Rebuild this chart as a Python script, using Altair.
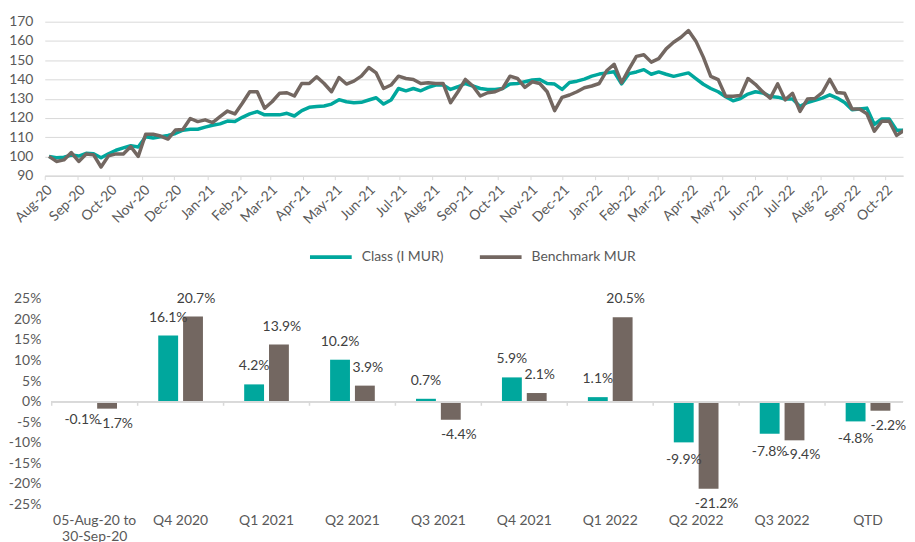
import altair as alt
import pandas as pd

# ---------------- data ----------------
SERIES = ["Class (I MUR)", "Benchmark MUR"]
TEAL = "#00A79D"
BROWN = "#736761"

class_idx = [100.0, 99.3, 99.6, 100.7, 100.2, 101.6, 101.4, 99.3, 101.4, 103.2,
             104.4, 105.6, 104.9, 110.2, 109.6, 110.2, 110.9, 111.9, 113.6, 114.1,
             114.1, 115.2, 116.2, 116.9, 118.4, 118.1, 120.3, 122.1, 123.3, 121.6,
             121.6, 121.6, 122.4, 121.0, 123.8, 125.5, 125.9, 126.2, 127.2, 129.5,
             128.4, 127.9, 128.1, 129.3, 130.5, 127.2, 129.3, 135.3, 134.1, 135.3,
             134.1, 135.9, 137.1, 137.1, 134.8, 136.2, 137.9, 136.6, 135.3, 134.8,
             134.8, 135.3, 137.6, 137.9, 138.8, 139.7, 140.0, 137.9, 137.6, 134.8,
             138.4, 139.1, 140.2, 141.7, 142.8, 143.4, 144.0, 137.7, 143.0, 143.9,
             145.1, 142.7, 143.9, 142.7, 141.6, 142.5, 143.4, 140.4, 137.5, 135.3,
             133.6, 131.0, 128.9, 130.1, 132.4, 133.6, 133.0, 131.1, 130.8, 129.8,
             129.8, 126.0, 128.0, 129.1, 130.3, 132.0, 130.3, 128.0, 124.3, 124.6,
             125.1, 116.6, 119.5, 119.5, 113.6, 113.6, 113.6]

bench_idx = [100.0, 97.4, 98.2, 102.0, 97.4, 101.3, 100.8, 94.5, 100.3, 101.3,
             101.3, 105.1, 100.0, 111.5, 111.5, 110.6, 109.0, 113.7, 114.0, 119.7,
             118.1, 119.0, 117.6, 120.7, 123.6, 122.1, 127.6, 133.6, 133.6, 125.0,
             128.4, 132.8, 133.1, 131.4, 137.9, 137.9, 141.4, 137.9, 133.6, 141.0,
             137.6, 139.1, 141.7, 146.2, 143.4, 135.3, 137.1, 141.7, 140.5, 140.0,
             137.9, 138.3, 137.9, 137.9, 127.9, 133.6, 140.0, 136.6, 131.4, 133.1,
             133.6, 135.3, 141.7, 140.5, 135.9, 138.8, 137.9, 133.6, 123.8, 130.7,
             131.9, 133.6, 135.7, 136.6, 137.9, 144.5, 147.9, 138.3, 145.4, 152.0,
             152.8, 149.0, 150.8, 155.9, 159.3, 161.9, 165.4, 159.9, 151.6, 141.6,
             139.9, 131.3, 131.3, 131.7, 140.5, 137.5, 133.5, 130.3, 137.7, 129.4,
             132.8, 123.4, 129.8, 130.1, 133.2, 140.1, 133.2, 132.8, 124.6, 124.6,
             122.2, 113.1, 118.3, 118.3, 110.9, 113.6, 122.6]

dates = pd.date_range("2020-08-05", periods=len(class_idx), freq="7D")

periods = ["05-Aug-20 to\n30-Sep-20", "Q4 2020", "Q1 2021", "Q2 2021", "Q3 2021",
           "Q4 2021", "Q1 2022", "Q2 2022", "Q3 2022", "QTD"]
class_ret = [-0.1, 16.1, 4.2, 10.2, 0.7, 5.9, 1.1, -9.9, -7.8, -4.8]
bench_ret = [-1.7, 20.7, 13.9, 3.9, -4.4, 2.1, 20.5, -21.2, -9.4, -2.2]

y_ticks_top = [90, 100, 110, 120, 130, 140, 150, 160, 170]
y_ticks_bottom = [-25, -20, -15, -10, -5, 0, 5, 10, 15, 20, 25]

# ---------------- tables ----------------
n = len(class_idx)
line_df = pd.DataFrame({
    "date": list(dates) * 2,
    "value": class_idx + bench_idx,
    "series": [SERIES[0]] * n + [SERIES[1]] * n,
})
bar_df = pd.DataFrame({
    "period": periods * 2,
    "series": [SERIES[0]] * len(periods) + [SERIES[1]] * len(periods),
    "value": class_ret + bench_ret,
})
period_df = pd.DataFrame({"period": periods})

AXIS_GREY = "#D9D9D9"
LABEL = "#595959"
W = 864

color_top = alt.Color(
    "series:N",
    scale=alt.Scale(domain=SERIES, range=[TEAL, BROWN]),
    title=None,
    legend=alt.Legend(
        orient="none", legendX=265, legendY=214, direction="horizontal",
        symbolType="stroke", symbolSize=1764, symbolStrokeWidth=4,
        labelFontSize=14, labelColor=LABEL, labelOffset=8, columnPadding=28,
    ),
)

base_line = alt.Chart(line_df).mark_line(strokeWidth=3.5, strokeJoin="round", clip=True).encode(
    x=alt.X(
        "date:T",
        scale=alt.Scale(domain=[alt.DateTime(year=2020, month=8, date=1),
                                alt.DateTime(year=2022, month=10, date=18)]),
        axis=alt.Axis(
            title=None, format="%b-%y", labelAngle=-45, labelFontSize=14, labelColor=LABEL,
            tickCount={"interval": "month", "step": 1}, labelOverlap=False,
            domainColor=AXIS_GREY, domainWidth=1.5, tickColor=AXIS_GREY, tickSize=4,
            labelPadding=3, grid=False,
        ),
    ),
    y=alt.Y(
        "value:Q",
        scale=alt.Scale(domain=[90, 170], nice=False, zero=False),
        axis=alt.Axis(
            title=None, values=y_ticks_top, grid=True, gridColor=AXIS_GREY, gridWidth=1,
            domain=False, ticks=False, labelPadding=12, labelFontSize=14, labelColor=LABEL,
        ),
    ),
    color=color_top,
)

top = alt.layer(
    base_line.transform_filter(alt.datum.series == SERIES[0]),
    base_line.transform_filter(alt.datum.series == SERIES[1]),
).properties(width=W, height=155)

x_scale = alt.Scale(domain=periods, range=[7, 872], paddingInner=0, paddingOuter=0)
x_axis = alt.Axis(
    title=None, labelExpr="split(datum.label, '\\n')", labelAngle=0,
    domain=False, ticks=False, labelPadding=9, labelOverlap=False,
    labelFontSize=14, labelColor=LABEL, labelLineHeight=16,
)
y_scale = alt.Scale(domain=[-25, 25], nice=False)
y_axis = alt.Axis(
    title=None, values=y_ticks_bottom, labelExpr="datum.value + '%'",
    domain=False, ticks=False, grid=False, labelPadding=4, labelOverlap=False,
    labelFontSize=14, labelColor=LABEL,
)

base_bar = alt.Chart(bar_df).encode(
    x=alt.X("period:N", scale=x_scale, axis=x_axis),
    xOffset=alt.XOffset("series:N", scale=alt.Scale(domain=SERIES, paddingInner=0.2, paddingOuter=0.83)),
    y=alt.Y("value:Q", scale=y_scale, axis=y_axis),
)

bars = base_bar.mark_bar().encode(
    color=alt.Color("series:N", scale=alt.Scale(domain=SERIES, range=[TEAL, BROWN]), legend=None)
)

zero_line = alt.Chart(period_df).mark_rule(color=AXIS_GREY, strokeWidth=1.5).encode(
    x=alt.value(7), x2=alt.value(W), y=alt.Y(datum=0, scale=y_scale, axis=y_axis)
)
sep_ticks = alt.Chart(period_df).mark_rule(color=AXIS_GREY, strokeWidth=1.5).encode(
    x=alt.X("period:N", bandPosition=0, scale=x_scale, axis=x_axis),
    y=alt.Y(datum=0, scale=y_scale, axis=y_axis), y2=alt.Y2(datum=-1),
)

lab = base_bar.transform_calculate(
    lbl="(datum.value < 0 ? '-' : '') + format(abs(datum.value), '.1f') + '%'"
)


def labels(series, positive, dx, dy):
    cond = "datum.value >= 0" if positive else "datum.value < 0"
    return lab.transform_filter(cond).transform_filter(alt.datum.series == series).mark_text(
        dy=dy, dx=dx, fontSize=14, color="#404040"
    ).encode(text="lbl:N")


bottom = alt.layer(
    bars, zero_line, sep_ticks,
    labels(SERIES[0], True, 0, -18), labels(SERIES[0], False, 0, 18),
    labels(SERIES[1], True, 3, -18), labels(SERIES[1], False, 8, 15),
).properties(width=W, height=207)

chart = alt.vconcat(top, bottom, spacing=124, bounds="flush").resolve_scale(
    color="independent"
).configure(
    font="Lato", padding={"left": 0, "top": 5, "right": 0, "bottom": 0}
).configure_view(stroke=None)

chart.save("out.html", embed_options={"renderer": "svg", "actions": False})
